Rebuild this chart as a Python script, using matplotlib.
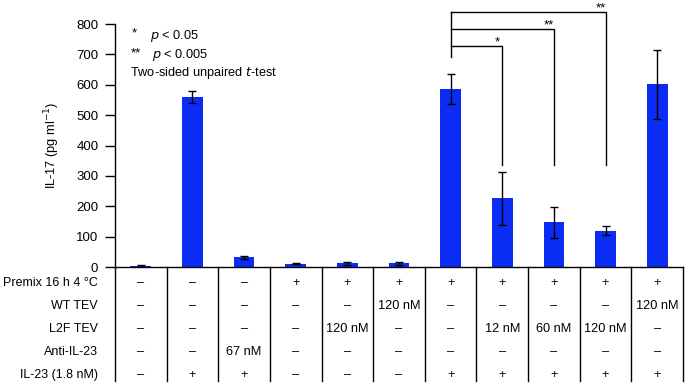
import matplotlib
matplotlib.use("Agg")
import matplotlib.pyplot as plt
import matplotlib.transforms as mtransforms
from matplotlib.lines import Line2D

plt.rcParams['font.family'] = ['Liberation Sans', 'DejaVu Sans']

values = [3, 560, 32, 11, 12, 12, 585, 226, 148, 120, 601]
errors = [2, 21, 5, 2, 6, 5, 50, 87, 51, 14, 115]

row_labels = ["Premix 16 h 4 \u00b0C", "WT TEV", "L2F TEV", "Anti-IL-23", "IL-23 (1.8 nM)"]
D = "\u2013"
table = [
    [D, D, D, "+", "+", "+", "+", "+", "+", "+", "+"],
    [D, D, D, D, D, "120 nM", D, D, D, D, "120 nM"],
    [D, D, D, D, "120 nM", D, D, "12 nM", "60 nM", "120 nM", D],
    [D, D, "67 nM", D, D, D, D, D, D, D, D],
    [D, "+", "+", D, D, D, "+", "+", "+", "+", "+"],
]

# significance comparisons: (from index, to index, label, bracket level)
comparisons = [(6, 7, "*", 726), (6, 8, "**", 783), (6, 9, "**", 840)]
bracket_drop = 336
left_drop = 692

W, H = 685, 383
fig = plt.figure(figsize=(W / 100, H / 100), dpi=100)
ax = fig.add_axes([115 / W, (H - 267) / H, (683 - 115) / W, (267 - 24) / H])

FS = 9.2

x = list(range(len(values)))
ax.bar(x, values, width=0.4, color="#0a2cf5", zorder=2)
ax.errorbar(x, values, yerr=errors, fmt="none", ecolor="black",
            elinewidth=1.0, capsize=3, capthick=1.0, zorder=3)

ax.set_xlim(-0.5, len(values) - 0.5)
ax.set_ylim(0, 800)
ax.set_yticks(range(0, 801, 100))
ax.set_xticks([])
for s in ["top", "right"]:
    ax.spines[s].set_visible(False)
ax.spines["left"].set_linewidth(1.0)
ax.spines["bottom"].set_linewidth(1.0)
ax.tick_params(axis="y", direction="out", length=7, width=1.0, labelsize=9.5, pad=5)
ax.set_ylabel("IL-17 (pg ml$^{-1}$)", fontsize=FS, labelpad=10)

# significance brackets
for i0, i1, lab, lev in comparisons:
    ax.plot([i0, i1, i1], [lev, lev, bracket_drop], color="black", lw=1.0,
            clip_on=False, zorder=4)
    ax.text(i1 - 0.1, lev + 3, lab, ha="center", va="baseline", fontsize=9.5)
top = max(c[3] for c in comparisons)
ax.plot([6, 6], [top, left_drop], color="black", lw=1.0, clip_on=False, zorder=4)

# legend text
ax.text(0.03, 0.985, "*", transform=ax.transAxes, fontsize=9.5, va="top")
ax.text(0.062, 0.985, "$p$ < 0.05", transform=ax.transAxes, fontsize=FS, va="top")
ax.text(0.027, 0.905, "**", transform=ax.transAxes, fontsize=9.5, va="top")
ax.text(0.066, 0.905, "$p$ < 0.005", transform=ax.transAxes, fontsize=FS, va="top")
ax.text(0.027, 0.83, "Two-sided unpaired $t$-test", transform=ax.transAxes, fontsize=FS, va="top")

# table below
trans = mtransforms.blended_transform_factory(ax.transData, fig.transFigure)
row_y = [283, 306, 329, 352, 375]
for r, (lab, row) in enumerate(zip(row_labels, table)):
    yf = (H - row_y[r]) / H
    fig.text(98 / W, yf, lab, ha="right", va="center", fontsize=9.0)
    for c, val in enumerate(row):
        ax.text(c, yf, val, transform=trans, ha="center", va="center", fontsize=FS)
for b in range(len(values) + 1):
    xb = b - 0.5
    line = Line2D([xb, xb], [(H - 267) / H, (H - 381) / H], transform=trans,
                  color="black", lw=1.0, clip_on=False)
    fig.add_artist(line)

fig.savefig("out.png", dpi=100)
